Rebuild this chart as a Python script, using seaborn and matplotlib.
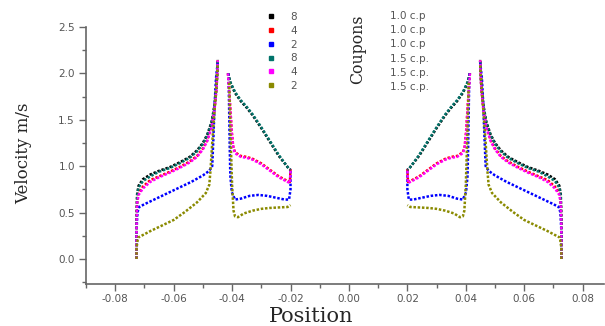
import numpy as np
import seaborn as sns
import matplotlib.pyplot as plt
from matplotlib.lines import Line2D
from matplotlib.ticker import MultipleLocator, FormatStrFormatter

# left half of the pipe (x < 0); the right half is the mirror image
OUT_X = [-0.0727, -0.0727, -0.0725, -0.0720, -0.0705, -0.068, -0.065, -0.0613,
         -0.058, -0.0545, -0.052, -0.050, -0.0485, -0.047, -0.046, -0.0453, -0.0449]
BLACK_OUT = [0.0, 0.40, 0.70, 0.79, 0.86, 0.91, 0.95, 0.99,
             1.04, 1.10, 1.17, 1.25, 1.34, 1.48, 1.66, 1.87, 2.15]
RED_OUT = [0.0, 0.35, 0.62, 0.71, 0.78, 0.85, 0.89, 0.94,
           0.99, 1.05, 1.11, 1.19, 1.28, 1.43, 1.62, 1.85, 2.15]
TEAL_OUT = [0.0, 0.40, 0.68, 0.77, 0.84, 0.89, 0.94, 0.98,
            1.03, 1.09, 1.16, 1.24, 1.33, 1.47, 1.65, 1.86, 2.14]
MAGENTA_OUT = [0.0, 0.35, 0.60, 0.69, 0.76, 0.83, 0.88, 0.93,
               0.98, 1.04, 1.10, 1.18, 1.27, 1.42, 1.61, 1.84, 2.14]

BLUE_OUT_X = [-0.0727, -0.0727, -0.0724, -0.0718, -0.070, -0.066, -0.062, -0.058,
              -0.054, -0.050, -0.0478, -0.0468, -0.0464, -0.0460, -0.0455, -0.0449]
BLUE_OUT = [0.0, 0.30, 0.50, 0.56, 0.59, 0.65, 0.71, 0.77,
            0.83, 0.90, 0.95, 1.00, 1.30, 1.65, 1.95, 2.12]

OLIVE_OUT_X = [-0.0727, -0.0727, -0.0722, -0.068, -0.064, -0.060, -0.056, -0.052,
               -0.049, -0.0478, -0.0474, -0.0468, -0.0460, -0.0453, -0.0449]
OLIVE_OUT = [0.0, 0.12, 0.23, 0.30, 0.36, 0.42, 0.51, 0.61,
             0.71, 0.80, 0.95, 1.25, 1.60, 1.90, 2.10]

TEAL_IN_X = [-0.0414, -0.0405, -0.039, -0.037, -0.035, -0.033, -0.030,
             -0.027, -0.024, -0.0205, -0.0200]
TEAL_IN = [2.00, 1.90, 1.80, 1.71, 1.64, 1.56, 1.42, 1.27, 1.12, 0.97, 0.96]
BLACK_IN = [2.00, 1.89, 1.79, 1.70, 1.63, 1.55, 1.41, 1.26, 1.11, 0.97, 0.96]

MAGENTA_IN_X = [-0.0414, -0.0411, -0.0406, -0.0401, -0.0396, -0.039, -0.037, -0.035,
                -0.033, -0.030, -0.027, -0.024, -0.021, -0.0202, -0.0200]
MAGENTA_IN = [2.00, 1.85, 1.60, 1.35, 1.20, 1.14, 1.10, 1.09,
              1.07, 1.02, 0.95, 0.88, 0.83, 0.82, 0.97]
RED_IN = [2.00, 1.86, 1.62, 1.37, 1.21, 1.15, 1.11, 1.10,
          1.08, 1.03, 0.96, 0.89, 0.84, 0.83, 0.97]

BLUE_IN_X = [-0.0412, -0.0410, -0.0408, -0.0406, -0.0401, -0.039, -0.037, -0.034,
             -0.031, -0.028, -0.025, -0.022, -0.0205, -0.0200, -0.0200]
BLUE_IN = [2.00, 1.60, 1.20, 0.90, 0.72, 0.64, 0.65, 0.68,
           0.69, 0.68, 0.66, 0.64, 0.64, 0.75, 0.97]

OLIVE_IN_X = [-0.0410, -0.0405, -0.0400, -0.0395, -0.039, -0.038, -0.036,
              -0.033, -0.030, -0.027, -0.024, -0.021, -0.0200]
OLIVE_IN = [1.90, 1.30, 0.80, 0.52, 0.46, 0.45, 0.49,
            0.52, 0.54, 0.55, 0.555, 0.56, 0.58]

NUMBERS = ['8', '4', '2', '8', '4', '2']
COUPONS = ['1.0 c.p', '1.0 c.p', '1.0 c.p', '1.5 c.p.', '1.5 c.p.', '1.5 c.p.']
COLORS = ['black', '#ff0000', '#0000ff', '#00736a', '#ff00ff', '#8a8a00']

series = [
    (OUT_X, BLACK_OUT, TEAL_IN_X, BLACK_IN),
    (OUT_X, RED_OUT, MAGENTA_IN_X, RED_IN),
    (BLUE_OUT_X, BLUE_OUT, BLUE_IN_X, BLUE_IN),
    (OUT_X, TEAL_OUT, TEAL_IN_X, TEAL_IN),
    (OUT_X, MAGENTA_OUT, MAGENTA_IN_X, MAGENTA_IN),
    (OLIVE_OUT_X, OLIVE_OUT, OLIVE_IN_X, OLIVE_IN),
]

sns.set_style('ticks')
plt.rcParams['font.family'] = ['DejaVu Sans']
plt.rcParams['axes.unicode_minus'] = False

W, H = 605, 326
fig = plt.figure(figsize=(W / 100, H / 100), dpi=100)
ax = fig.add_axes([86 / W, 1 - 284 / H, (604 - 86) / W, (284 - 27) / H])

for (ox, ov, ix, iv), color in zip(series, COLORS):
    for xs, vs in ((ox, ov), (ix, iv)):
        for side in (1, -1):
            sns.lineplot(x=np.array(xs) * side, y=vs, sort=False, estimator=None,
                         color=color, lw=1.8, linestyle=(0, (1, 0.7)), ax=ax)

ax.set_xlim(-0.090, 0.0873)
ax.set_ylim(-0.27, 2.5)
ax.xaxis.set_major_locator(MultipleLocator(0.02))
ax.xaxis.set_minor_locator(MultipleLocator(0.01))
ax.yaxis.set_major_locator(MultipleLocator(0.5))
ax.yaxis.set_minor_locator(MultipleLocator(0.25))
ax.xaxis.set_major_formatter(FormatStrFormatter('%.2f'))
ax.yaxis.set_major_formatter(FormatStrFormatter('%.1f'))
ax.tick_params(which='major', length=5, width=1, color='#666666', direction='out',
               labelsize=7.5, labelcolor='#555555', pad=3)
ax.tick_params(axis='x', which='major', pad=2)
ax.tick_params(which='minor', length=3, width=1, color='#666666', direction='out')
sns.despine(ax=ax)
for s in ('left', 'bottom'):
    ax.spines[s].set_color('#666666')
    ax.spines[s].set_linewidth(1.2)

ax.set_xlabel('Position', family='DejaVu Serif', fontsize=15)
ax.xaxis.label.set_va('center')
ax.xaxis.set_label_coords((311 - 86) / 518, -(317 - 284) / 257)
ax.set_ylabel('Velocity m/s', family='DejaVu Serif', fontsize=12)
ax.yaxis.label.set_va('center')
ax.yaxis.set_label_coords((24 - 86) / 518, (284 - 153) / 257)

handles = [Line2D([0], [0], marker='s', ms=2.5, color=c, ls='none') for c in COLORS]
ax.legend(handles, NUMBERS, loc='upper left', bbox_to_anchor=(266 / W, 1 - 12 / H),
          bbox_transform=fig.transFigure, frameon=False, fontsize=7.5,
          labelcolor='#555555', handlelength=1.0, handletextpad=1.3,
          labelspacing=0.36, borderpad=0, borderaxespad=0)

fig.text(358 / W, 1 - 49 / H, 'Coupons', rotation=90, ha='center', va='center',
         family='DejaVu Serif', fontsize=11.3)
for i, lab in enumerate(COUPONS):
    fig.text(390 / W, 1 - (16 + 14.2 * i) / H, lab, ha='left', va='center',
             fontsize=7.5, color='#555555')

fig.savefig('out.png', dpi=100)
